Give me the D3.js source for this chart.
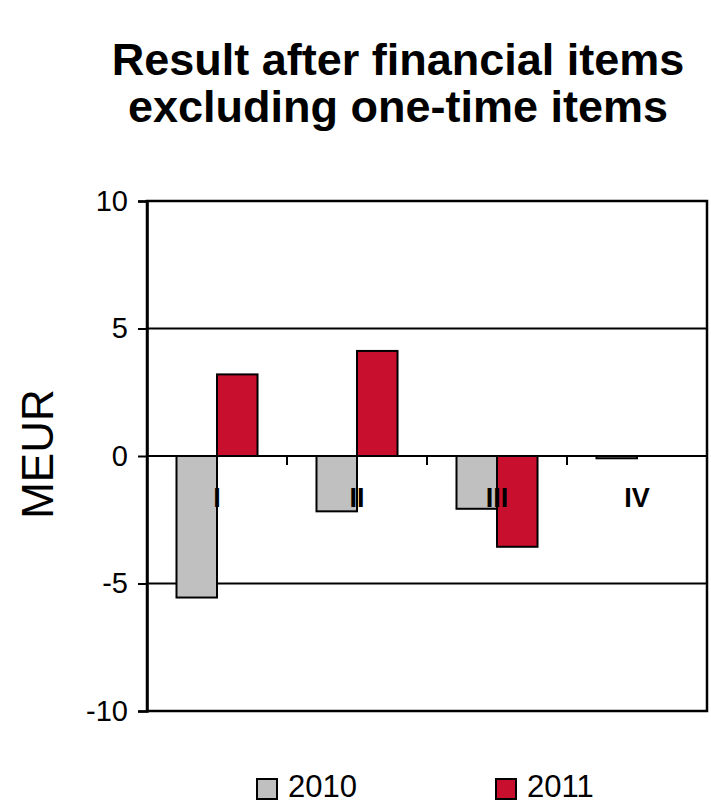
<!DOCTYPE html>
<html>
<head>
<meta charset="utf-8">
<script src="https://cdn.jsdelivr.net/npm/d3@7"></script>
<style>
  html, body { margin: 0; padding: 0; background: #fff; }
  svg { display: block; font-family: "Liberation Sans", Arial, sans-serif; }
</style>
</head>
<body>
<svg id="chart" width="711" height="804"></svg>
<script>
// Quarterly result after financial items, excluding one-time items (MEUR)
const quarters = ["I", "II", "III", "IV"];
const seriesNames = ["2010", "2011"];
const values2010 = [-5.55, -2.17, -2.07, -0.09];
const values2011 = [3.2, 4.12, -3.56, null];
const yTicks = [-10, -5, 0, 5, 10];
const titleLines = ["Result after financial items", "excluding one-time items"];
const yLabel = "MEUR";
const colors = { "2010": "#c0c0c0", "2011": "#c8102e" };

const rows = quarters.map((q, i) => ({ q, "2010": values2010[i], "2011": values2011[i] }));

const svg = d3.select("#chart");
const plot = { left: 147, right: 707, top: 201, bottom: 711 };

const x0 = d3.scaleBand().domain(quarters).range([plot.left, plot.right]).padding(0);
const x1 = d3.scaleBand().domain(seriesNames).range([0, x0.bandwidth()])
  .paddingInner(0).paddingOuter(0.728);
const y = d3.scaleLinear().domain([-10, 10]).range([plot.bottom, plot.top]);

// Title
svg.append("g").selectAll("text").data(titleLines).join("text")
  .attr("x", 398).attr("y", (d, i) => 75 + i * 47)
  .attr("text-anchor", "middle")
  .attr("font-size", 45).attr("font-weight", "bold").attr("fill", "#000")
  .text(d => d);

// Horizontal gridlines
svg.append("g").selectAll("line").data(yTicks.filter(t => t !== 10 && t !== -10)).join("line")
  .attr("x1", plot.left).attr("x2", plot.right)
  .attr("y1", d => y(d)).attr("y2", d => y(d))
  .attr("stroke", "#000").attr("stroke-width", 2);

// Bars
const groups = svg.append("g").selectAll("g").data(rows).join("g")
  .attr("transform", d => `translate(${x0(d.q)},0)`);
groups.selectAll("rect")
  .data(d => seriesNames.filter(s => d[s] !== null).map(s => ({ s, v: d[s] })))
  .join("rect")
  .attr("x", d => x1(d.s))
  .attr("width", x1.bandwidth())
  .attr("y", d => y(Math.max(0, d.v)))
  .attr("height", d => Math.abs(y(d.v) - y(0)))
  .attr("fill", d => colors[d.s])
  .attr("stroke", "#000").attr("stroke-width", 2);

// Category axis on the zero line
const catAxis = svg.append("g");
catAxis.append("line")
  .attr("x1", plot.left).attr("x2", plot.right)
  .attr("y1", y(0)).attr("y2", y(0))
  .attr("stroke", "#000").attr("stroke-width", 2);
catAxis.selectAll("line.tick").data(quarters.slice(1)).join("line")
  .attr("class", "tick")
  .attr("x1", d => x0(d)).attr("x2", d => x0(d))
  .attr("y1", y(0)).attr("y2", y(0) + 9)
  .attr("stroke", "#000").attr("stroke-width", 2);
catAxis.selectAll("text").data(quarters).join("text")
  .attr("x", d => x0(d) + x0.bandwidth() / 2)
  .attr("y", 507)
  .attr("text-anchor", "middle")
  .attr("font-size", 27).attr("font-weight", "bold")
  .text(d => d);

// Plot frame
svg.append("rect")
  .attr("x", plot.left).attr("y", plot.top)
  .attr("width", plot.right - plot.left).attr("height", plot.bottom - plot.top)
  .attr("fill", "none").attr("stroke", "#000").attr("stroke-width", 2.5);

// Value axis
const yAxis = svg.append("g")
  .attr("transform", `translate(${plot.left},0)`)
  .call(d3.axisLeft(y).tickValues(yTicks).tickSize(9).tickPadding(10).tickFormat(d => String(d)));
yAxis.select(".domain").attr("stroke", "#000").attr("stroke-width", 2.5);
yAxis.selectAll(".tick line").attr("stroke", "#000").attr("stroke-width", 2);
yAxis.selectAll(".tick text")
  .attr("font-size", 29).attr("fill", "#000")
  .attr("font-family", "'Liberation Sans', Arial, sans-serif");

// Value axis title
svg.append("text")
  .attr("transform", `translate(53,${y(0) - 2}) rotate(-90)`)
  .attr("text-anchor", "middle")
  .attr("font-size", 44).attr("fill", "#000")
  .text(yLabel);

// Legend
const legend = svg.append("g");
const legendItems = [
  { s: "2010", x: 257 },
  { s: "2011", x: 496 }
];
legend.selectAll("rect").data(legendItems).join("rect")
  .attr("x", d => d.x).attr("y", 779)
  .attr("width", 20).attr("height", 20)
  .attr("fill", d => colors[d.s]).attr("stroke", "#000").attr("stroke-width", 2);
legend.selectAll("text").data(legendItems).join("text")
  .attr("x", d => d.x + 31).attr("y", 797)
  .attr("font-size", 31).attr("fill", "#000")
  .text(d => d.s);
</script>
</body>
</html>
